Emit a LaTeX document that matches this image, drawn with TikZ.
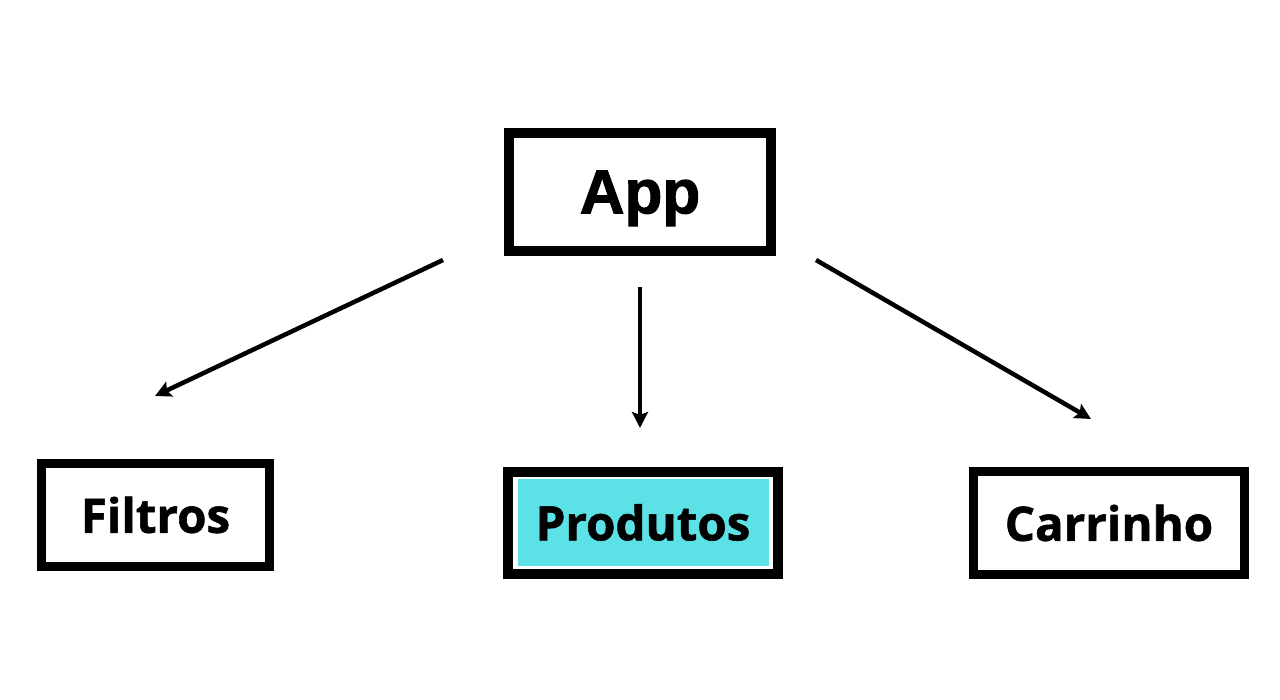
\documentclass[tikz,border=0pt]{standalone}
\usepackage{fontspec}
\setmainfont{Open Sans}[BoldFeatures={FakeBold=1.2}]
\newfontfamily\appfont{Liberation Sans}[BoldFeatures={FakeBold=1.6}]
\usetikzlibrary{arrows.meta}
\definecolor{turq}{HTML}{5CE1E6}
\tikzset{
  box/.style={draw=black, line width=9pt, inner sep=0pt, font=\bfseries\fontsize{47.5}{52}\selectfont},
  arr/.style={line width=4.5pt, -{Stealth[length=16pt, width=16pt, inset=3pt]}},
}
\begin{document}
\begin{tikzpicture}[x=1pt,y=-1pt]
\useasboundingbox[fill=white] (0,0) rectangle (1280,700);
\node[box, line width=10pt, minimum width=262pt, minimum height=118pt, text depth=0pt, font=\appfont\bfseries\fontsize{62}{66}\selectfont] (app) at (640,192) {App};
\node[box, minimum width=228pt, minimum height=103pt] (filtros) at (155.5,515) {Filtros};
\node[box, line width=5pt, draw=white, fill=turq, minimum width=256pt, minimum height=92pt] (prod) at (643,522.5) {Produtos};
\node[draw=black, line width=10pt, inner sep=0pt, minimum width=270pt, minimum height=102pt] (prodframe) at (643,523) {};
\node[box, minimum width=271pt, minimum height=103pt] (carr) at (1109,523) {Carrinho};
\coordinate (a1s) at (443,260);
\coordinate (a1e) at (155,396);
\coordinate (a2s) at (640,287);
\coordinate (a2e) at (640,428);
\coordinate (a3s) at (816,260);
\coordinate (a3e) at (1091,419);
\draw[arr] (a1s) -- (a1e);
\draw[arr] (a2s) -- (a2e);
\draw[arr] (a3s) -- (a3e);
\end{tikzpicture}
\end{document}
